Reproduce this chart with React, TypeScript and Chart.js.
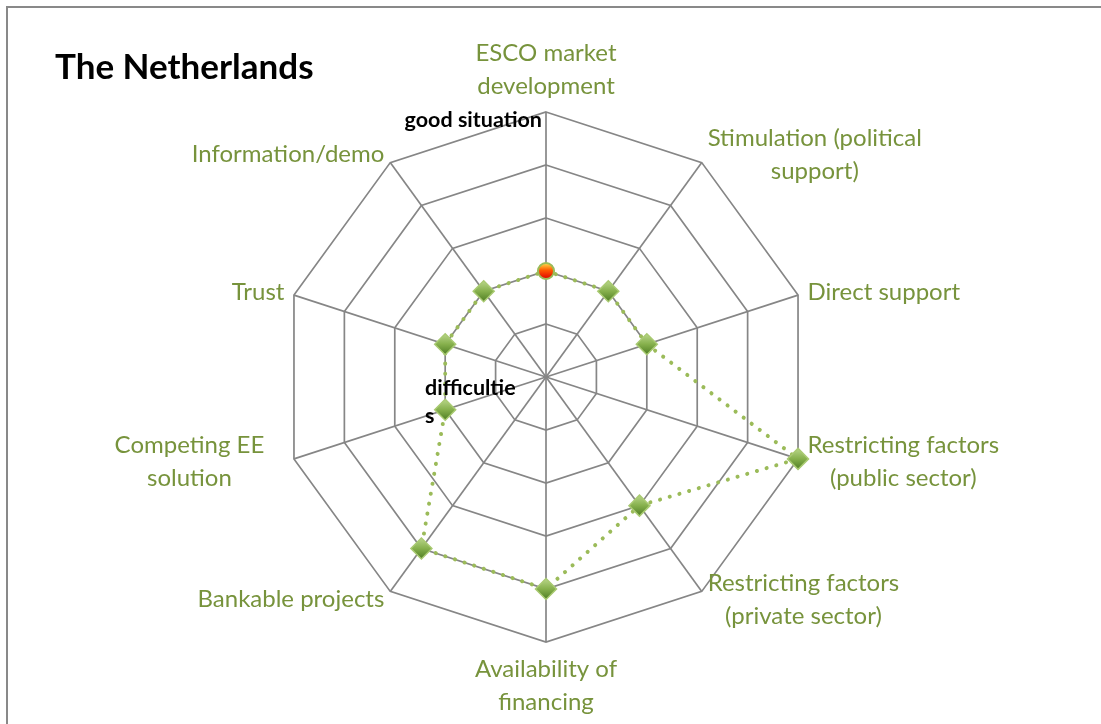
import React, { useEffect, useRef } from "react";
import { Chart, registerables } from "chart.js";

Chart.register(...registerables);

const TITLE = "The Netherlands";
const AXIS_LABELS: string[][] = [
  ["ESCO market", "development"],
  ["Stimulation (political", "support)"],
  ["Direct support"],
  ["Restricting factors", "(public sector)"],
  ["Restricting factors", "(private sector)"],
  ["Availability of", "financing"],
  ["Bankable projects"],
  ["Competing EE", "solution"],
  ["Trust"],
  ["Information/demo"],
];
const VALUES = [2, 2, 2, 5, 3, 4, 4, 2, 2, 2];
const SCALE_MIN = 0;
const SCALE_MAX = 5;
const SCALE_STEP = 1;
const TOP_NOTE = "good situation";
const CENTER_NOTE = ["difficultie", "s"];

const LABEL_COLOR = "#77933C";
const GRID_COLOR = "#868686";
const LINE_COLOR = "#9BBB59";
const FONT = "Lato";

const decorPlugin = {
  id: "decor",
  afterDatasetsDraw(chart: any) {
    const ctx: CanvasRenderingContext2D = chart.ctx;
    const meta = chart.getDatasetMeta(0);
    ctx.save();
    meta.data.forEach((pt: any, i: number) => {
      const x = pt.x;
      const y = pt.y;
      if (i === 0) {
        const r = 8;
        const g = ctx.createLinearGradient(x, y - r, x, y + r);
        g.addColorStop(0, "#FFE14D");
        g.addColorStop(0.45, "#FF5A00");
        g.addColorStop(1, "#E00000");
        ctx.beginPath();
        ctx.arc(x, y, r, 0, Math.PI * 2);
        ctx.fillStyle = g;
        ctx.fill();
        ctx.lineWidth = 2;
        ctx.strokeStyle = "#9BBB59";
        ctx.stroke();
      } else {
        const r = 10.5;
        const g = ctx.createLinearGradient(x, y - r, x, y + r);
        g.addColorStop(0, "#B9D68A");
        g.addColorStop(0.5, "#86B04C");
        g.addColorStop(1, "#4E7D23");
        ctx.beginPath();
        ctx.moveTo(x, y - r);
        ctx.lineTo(x + r, y);
        ctx.lineTo(x, y + r);
        ctx.lineTo(x - r, y);
        ctx.closePath();
        ctx.fillStyle = g;
        ctx.fill();
        ctx.lineWidth = 1.5;
        ctx.strokeStyle = "#A9CA72";
        ctx.stroke();
      }
    });
    ctx.restore();
  },
  afterDraw(chart: any) {
    const ctx: CanvasRenderingContext2D = chart.ctx;
    const scale = chart.scales.r;
    const n = AXIS_LABELS.length;
    ctx.save();
    // axis labels
    ctx.font = `24px ${FONT}`;
    ctx.fillStyle = LABEL_COLOR;
    ctx.textAlign = "center";
    ctx.textBaseline = "middle";
    const lh = 33;
    AXIS_LABELS.forEach((lines, i) => {
      const p = scale.getPointPosition(i, scale.drawingArea + 10);
      const deg = (i * 360) / n;
      const widths = lines.map((l) => ctx.measureText(l).width);
      let bw = Math.max(...widths);
      if (lines.length > 1) bw = Math.max(bw, 190);
      const bh = lines.length * lh;
      let left: number, top: number;
      if (deg === 0) {
        left = p.x - bw / 2;
        top = p.y - bh + 1;
      } else if (deg === 180) {
        left = p.x - bw / 2;
        top = p.y + 1;
      } else if (deg < 180) {
        left = p.x;
        top = p.y - bh / 2;
      } else {
        left = p.x - bw;
        top = p.y - bh / 2;
      }
      lines.forEach((l, k) => ctx.fillText(l, left + bw / 2, top + lh * (k + 0.5)));
    });
    // title
    ctx.fillStyle = "#000000";
    ctx.font = `bold 35px ${FONT}`;
    ctx.textAlign = "left";
    ctx.textBaseline = "alphabetic";
    ctx.fillText(TITLE, 55, 79);
    // notes
    ctx.font = `bold 21.5px ${FONT}`;
    ctx.textBaseline = "middle";
    ctx.textAlign = "right";
    ctx.fillText(TOP_NOTE, scale.xCenter - 4, scale.yCenter - scale.drawingArea + 8);
    ctx.textAlign = "left";
    CENTER_NOTE.forEach((t, k) => {
      ctx.fillText(t, scale.xCenter - 121, scale.yCenter + 11 + k * 28);
    });
    ctx.restore();
  },
};

export default function App() {
  const ref = useRef<HTMLCanvasElement | null>(null);
  useEffect(() => {
    if (!ref.current) return;
    const chart = new Chart(ref.current, {
      type: "radar",
      data: {
        labels: AXIS_LABELS,
        datasets: [
          {
            data: VALUES,
            borderColor: LINE_COLOR,
            borderWidth: 4,
            borderDash: [0.1, 10],
            borderCapStyle: "round",
            backgroundColor: "rgba(0,0,0,0)",
            fill: false,
            tension: 0,
            pointStyle: VALUES.map((_, i) => (i === 0 ? "circle" : "rectRot")) as any,
            pointRadius: VALUES.map((_, i) => (i === 0 ? 8 : 7)),
            pointBackgroundColor: "#86B04C",
            pointBorderColor: "#A9CA72",
            pointBorderWidth: 1,
          } as any,
        ],
      },
      options: {
        responsive: false,
        animation: false,
        devicePixelRatio: 1,
        layout: { padding: { left: 246, right: 255, top: 112, bottom: 82 } },
        plugins: { legend: { display: false }, tooltip: { enabled: false } },
        scales: {
          r: {
            min: SCALE_MIN,
            max: SCALE_MAX,
            ticks: { display: false, stepSize: SCALE_STEP },
            grid: { color: GRID_COLOR, lineWidth: 1.7 },
            angleLines: { color: GRID_COLOR, lineWidth: 1.7 },
            pointLabels: { display: false },
          },
        },
      },
      plugins: [decorPlugin],
    });
    return () => chart.destroy();
  }, []);
  return (
    <div style={{ position: "fixed", left: 0, top: 0, width: 1101, height: 724, background: "#fff", overflow: "hidden" }}>
      <div
        style={{
          position: "absolute",
          left: 6,
          top: 6,
          right: -10,
          bottom: -10,
          borderLeft: "2px solid #898989",
          borderTop: "2px solid #898989",
        }}
      />
      <canvas ref={ref} width={1101} height={724} style={{ position: "absolute", left: 0, top: 0, display: "block" }} />
    </div>
  );
}
